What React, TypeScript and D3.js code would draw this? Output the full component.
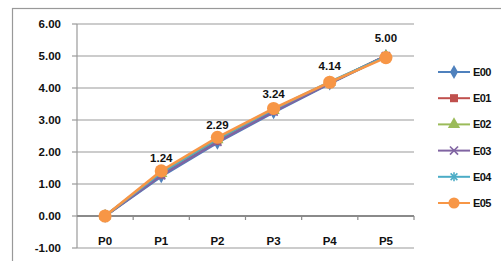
import React from "react";
import * as d3 from "d3";

const categories = ["P0", "P1", "P2", "P3", "P4", "P5"];
const seriesNames = ["E00", "E01", "E02", "E03", "E04", "E05"];
const e00 = [0, 1.24, 2.29, 3.24, 4.14, 5.0];
const e01 = [0, 1.3, 2.35, 3.28, 4.16, 5.0];
const e02 = [0, 1.33, 2.38, 3.3, 4.17, 4.99];
const e03 = [0, 1.27, 2.32, 3.26, 4.15, 5.0];
const e04 = [0, 1.36, 2.42, 3.33, 4.19, 4.98];
const e05 = [0, 1.41, 2.46, 3.36, 4.18, 4.95];
const seriesValues = [e00, e01, e02, e03, e04, e05];
const dataLabels = [null, "1.24", "2.29", "3.24", "4.14", "5.00"];
const yTicks = [-1, 0, 1, 2, 3, 4, 5, 6];

const colors = ["#4F81BD", "#C0504D", "#9BBB59", "#8064A2", "#4BACC6", "#F79646"];
const symbols = [d3.symbolDiamond, d3.symbolSquare, d3.symbolTriangle, d3.symbolCross, d3.symbolCross, d3.symbolCircle];

function Marker({ i, x, y, s }: { i: number; x: number; y: number; s: number }) {
  const c = colors[i];
  if (i === 3) {
    const r = s * 0.45;
    return (
      <g stroke={c} strokeWidth={1.6}>
        <line x1={x - r} y1={y - r} x2={x + r} y2={y + r} />
        <line x1={x - r} y1={y + r} x2={x + r} y2={y - r} />
      </g>
    );
  }
  if (i === 4) {
    const r = s * 0.5;
    return (
      <g stroke={c} strokeWidth={1.6}>
        <line x1={x - r * 0.75} y1={y - r * 0.75} x2={x + r * 0.75} y2={y + r * 0.75} />
        <line x1={x - r * 0.75} y1={y + r * 0.75} x2={x + r * 0.75} y2={y - r * 0.75} />
        <line x1={x} y1={y - r} x2={x} y2={y + r} />
      </g>
    );
  }
  const size = i === 5 ? s * s * 0.8 : i === 0 ? s * s * 0.7 : s * s * 0.8;
  const path = d3.symbol().type(symbols[i]).size(size)()!;
  return <path d={path} transform={`translate(${x},${y})`} fill={c} />;
}

export default function App() {
  const W = 501, H = 261;
  const left = 77, right = 414, top = 24, bottom = 248;
  const x = d3.scaleBand<string>().domain(categories).range([left, right]);
  const y = d3.scaleLinear().domain([-1, 6]).range([bottom, top]);
  const cx = (c: string) => x(c)! + x.bandwidth() / 2;
  const line = d3.line<number>().x((_, j) => cx(categories[j])).y((v) => y(v));
  const font = "'Liberation Sans', Arial, sans-serif";
  const legendY0 = 72, legendStep = 26.2;

  return (
    <svg width={W} height={H} style={{ position: "absolute", left: 0, top: 0, background: "#fff" }} fontFamily={font}>
      <rect x={12.5} y={8.5} width={520} height={280} fill="#fff" stroke="#999" strokeWidth={1.2} />
      {yTicks.map((t) => (
        <g key={t}>
          {t !== 0 && <line x1={left} x2={right} y1={y(t)} y2={y(t)} stroke="#9a9a9a" strokeWidth={1.2} />}
          <line x1={left - 5} x2={left} y1={y(t)} y2={y(t)} stroke="#9a9a9a" strokeWidth={1.2} />
          <text x={61} y={y(t) + 4} textAnchor="end" fontSize={11.5} fontWeight="bold" fill="#111">
            {t.toFixed(2)}
          </text>
        </g>
      ))}
      <line x1={left} x2={left} y1={top} y2={bottom} stroke="#9a9a9a" strokeWidth={1.2} />
      <line x1={left} x2={right} y1={y(0)} y2={y(0)} stroke="#8a8a8a" strokeWidth={1.8} />
      {categories.map((c) => (
        <line key={c} x1={x(c)! + x.bandwidth()} x2={x(c)! + x.bandwidth()} y1={y(0)} y2={y(0) + 4} stroke="#8a8a8a" strokeWidth={1.2} />
      ))}
      {categories.map((c) => (
        <text key={c} x={cx(c)} y={y(-1) - 3} textAnchor="middle" fontSize={11.5} fontWeight="bold" fill="#111">
          {c}
        </text>
      ))}
      {seriesValues.map((vals, i) => (
        <g key={i}>
          <path d={line(vals)!} fill="none" stroke={colors[i]} strokeWidth={2.6} />
          {vals.map((v, j) => (
            <Marker key={j} i={i} x={cx(categories[j])} y={y(v)} s={i === 5 ? 13 : 9} />
          ))}
        </g>
      ))}
      {dataLabels.map((l, j) =>
        l ? (
          <text key={j} x={cx(categories[j])} y={y(e00[j]) - 14} textAnchor="middle" fontSize={11.5} fontWeight="bold" fill="#111">
            {l}
          </text>
        ) : null
      )}
      {seriesNames.map((n, i) => {
        const ly = legendY0 + i * legendStep;
        return (
          <g key={n}>
            <line x1={438} x2={470} y1={ly} y2={ly} stroke={colors[i]} strokeWidth={2} />
            <Marker i={i} x={454} y={ly} s={i === 5 ? 11 : 9} />
            <text x={473} y={ly + 4} fontSize={11} fontWeight="bold" fill="#111" letterSpacing={-0.6}>
              {n}
            </text>
          </g>
        );
      })}
    </svg>
  );
}
